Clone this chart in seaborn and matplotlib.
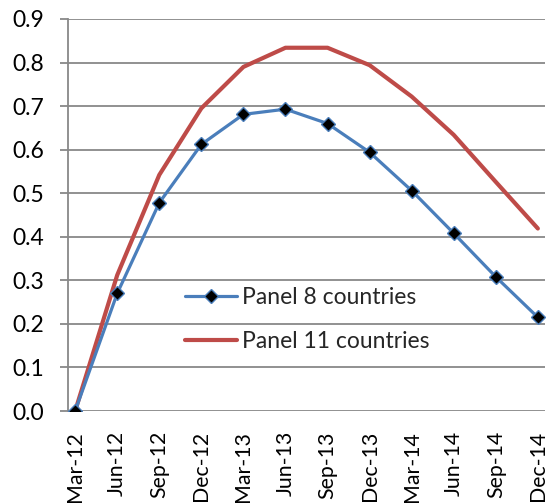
import matplotlib
matplotlib.use("Agg")
import matplotlib.pyplot as plt
import seaborn as sns
import pandas as pd

categories = ["Mar-12", "Jun-12", "Sep-12", "Dec-12", "Mar-13", "Jun-13",
              "Sep-13", "Dec-13", "Mar-14", "Jun-14", "Sep-14", "Dec-14"]
panel8 = [0.0, 0.270, 0.478, 0.612, 0.681, 0.693, 0.660, 0.594, 0.506, 0.408, 0.308, 0.215]
panel11 = [0.0, 0.312, 0.542, 0.695, 0.790, 0.834, 0.834, 0.794, 0.722, 0.634, 0.526, 0.419]
yticks = [0.0, 0.1, 0.2, 0.3, 0.4, 0.5, 0.6, 0.7, 0.8, 0.9]

sns.set_style("white")
plt.rcParams["font.family"] = ["Lato", "DejaVu Sans"]

df8 = pd.DataFrame({"x": categories, "y": panel8})
df11 = pd.DataFrame({"x": categories, "y": panel11})

fig = plt.figure(figsize=(5.48, 5.04), dpi=100)
ax = fig.add_axes([68 / 548, 93 / 504, 477 / 548, 392 / 504])

sns.lineplot(data=df8, x="x", y="y", ax=ax, sort=False, color="#4A7EBB",
             linewidth=2.3, marker="D", markersize=7, markerfacecolor="black",
             markeredgecolor="#4A7EBB", markeredgewidth=1.0,
             label="Panel 8 countries", zorder=4)
sns.lineplot(data=df11, x="x", y="y", ax=ax, sort=False, color="#BE4B48",
             linewidth=3.0, label="Panel 11 countries", zorder=3)

ax.set_ylim(0, 0.9)
ax.set_xlim(-0.17, 11.17)
ax.set_yticks(yticks)
ax.set_yticklabels([f"{v:.1f}" for v in yticks])
ax.set_xticks(range(len(categories)))
ax.set_xticklabels(categories, rotation=90)
ax.set_xlabel("")
ax.set_ylabel("")

for v in yticks:
    ax.axhline(v, color="#888888", linewidth=1.3, zorder=1)

for s in ["top", "right", "bottom"]:
    ax.spines[s].set_visible(False)
ax.spines["left"].set_color("#888888")
ax.spines["left"].set_linewidth(1.3)

ax.tick_params(axis="y", which="both", left=True, length=6, width=1.3,
               color="#888888", pad=11, labelsize=16.5, labelcolor="black")
ax.tick_params(axis="x", which="both", bottom=False, pad=11, labelsize=15.3,
               labelcolor="black")

leg = ax.legend(loc="center left", bbox_to_anchor=((185 - 68) / 477, (411 - 319.5) / 392),
                frameon=False, fontsize=16.5, handlelength=2.27, handletextpad=0.22,
                labelspacing=1.0, borderpad=0, borderaxespad=0)

fig.savefig("out.png", dpi=100)
